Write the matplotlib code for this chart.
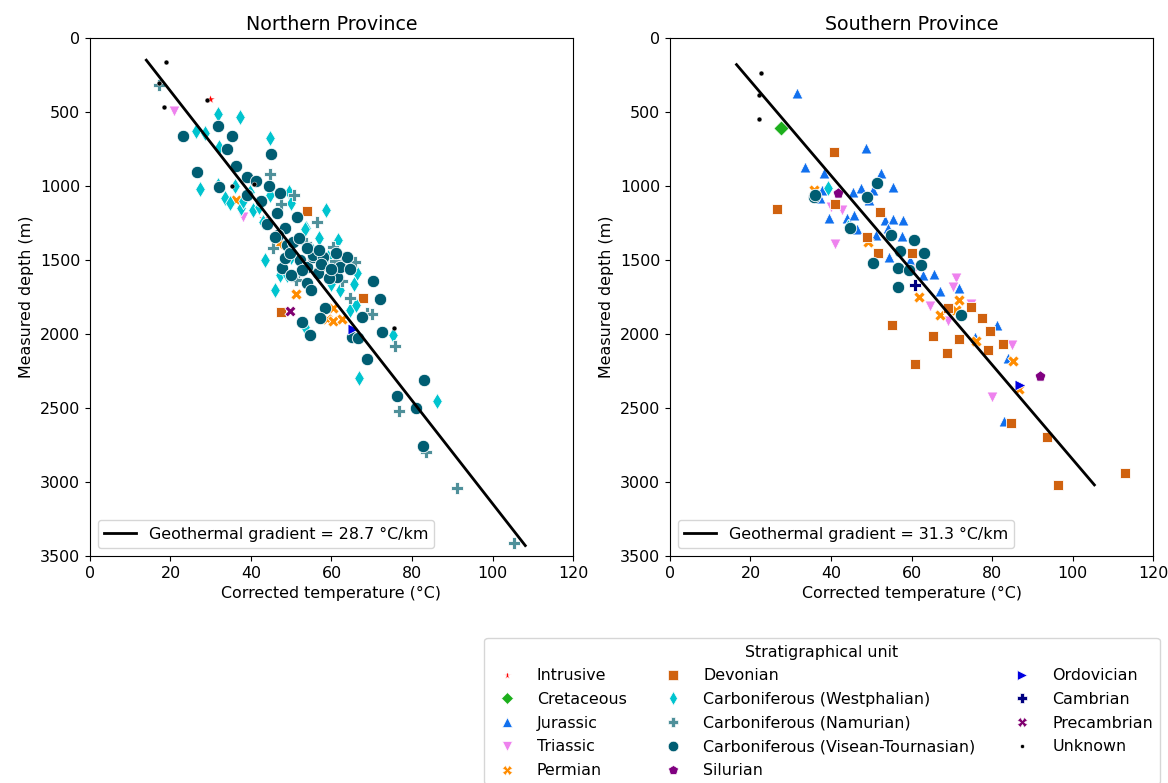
import matplotlib
matplotlib.use('Agg')
import matplotlib.pyplot as plt
from matplotlib.lines import Line2D

# Stratigraphical units: name, marker, colour, size
UNITS = ['Intrusive', 'Cretaceous', 'Jurassic', 'Triassic', 'Permian', 'Devonian',
         'Carboniferous (Westphalian)', 'Carboniferous (Namurian)',
         'Carboniferous (Visean-Tournasian)', 'Silurian', 'Ordovician', 'Cambrian',
         'Precambrian', 'Unknown']
MARKERS = ['*', 'D', '^', 'v', 'X', 's', 'd', 'P', 'o', 'p', '>', 'P', 'X', '.']
COLORS = ['red', '#1caf1c', '#1170ee', '#ee82ee', '#ff8c00', '#d0620f', '#00c4cf',
          '#4f909a', '#005d72', '#800080', '#0000e0', '#000080', '#800070', 'black']
SIZES = [45, 60, 62, 62, 68, 62, 68, 78, 80, 68, 62, 64, 64, 50]

# ---- Northern Province (temperature degC, depth m) ----
N_INTRUSIVE = [(29.8, 412), (43.1, 1214), (56.9, 1428)]
N_TRIASSIC = [(20.9, 491), (37.9, 1207)]
N_PERMIAN = [(36.4, 1095), (47.0, 1394), (51.1, 1730), (60.4, 1822), (58.8, 1899),
             (60.4, 1910), (62.5, 1899)]
N_DEVONIAN = [(53.8, 1167), (67.9, 1759), (47.5, 1851)]
N_WESTPHALIAN = [(31.9, 514), (37.3, 532), (26.3, 628), (28.6, 644), (32.1, 734),
                 (44.7, 678), (27.3, 1022), (33.5, 1083), (34.8, 1117), (31.9, 993),
                 (39.8, 1038), (44.7, 1061), (49.5, 1038), (49.9, 1117), (58.6, 1162),
                 (53.7, 1286), (61.7, 1365), (43.5, 1500), (43.0, 1241), (40.6, 1162),
                 (37.5, 1151), (59.2, 1478), (47.2, 1601), (53.4, 1292), (48.9, 1601),
                 (59.5, 1563), (60.0, 1664), (66.4, 1590), (65.6, 1662), (64.6, 1838),
                 (66.1, 1804), (53.4, 1950), (75.4, 2007), (66.9, 2300), (86.1, 2451),
                 (36.0, 1000), (38.0, 1100), (42.0, 1140), (55.0, 1420), (57.0, 1350),
                 (62.0, 1700), (46.0, 1700), (50.0, 1480)]
N_NAMURIAN = [(17.2, 318), (44.7, 919), (50.8, 1063), (56.3, 1241), (53.7, 1387),
              (60.3, 1414), (60.9, 1507), (51.8, 1601), (65.8, 1516), (51.3, 1635),
              (64.6, 1755), (68.7, 1860), (70.0, 1867), (75.8, 2081), (76.8, 2518),
              (83.5, 2797), (91.2, 3041), (105.3, 3412), (47.5, 1120), (57.0, 1560),
              (62.5, 1640), (45.5, 1420)]
N_VISEAN = [(23.0, 660), (31.7, 595), (35.4, 660), (34.0, 752), (45.1, 784), (36.4, 865),
            (26.5, 903), (38.9, 937), (41.2, 964), (44.5, 998), (32.1, 1004), (47.2, 1050),
            (46.4, 1184), (51.4, 1212), (48.4, 1286), (46.8, 1331), (48.9, 1399),
            (47.6, 1556), (52.2, 1500), (53.8, 1545), (55.5, 1478), (63.6, 1478),
            (61.3, 1612), (56.7, 1590), (46.0, 1342), (48.4, 1489), (49.7, 1455),
            (52.6, 1568), (53.8, 1657), (55.5, 1466), (58.0, 1478), (62.1, 1545),
            (63.8, 1478), (70.4, 1642), (72.0, 1764), (67.7, 1883), (58.4, 1827),
            (57.1, 1894), (52.6, 1917), (54.7, 2007), (65.0, 2018), (66.7, 2029),
            (72.5, 1984), (68.7, 2171), (83.0, 2311), (76.2, 2419), (80.9, 2502),
            (82.7, 2757), (50.5, 1380), (54.0, 1420), (57.5, 1530), (59.5, 1620),
            (50.0, 1600), (44.0, 1260), (42.5, 1100), (39.0, 1060), (55.0, 1700),
            (60.0, 1560), (57.0, 1430), (52.0, 1350), (64.5, 1560), (61.0, 1450)]
N_ORDOVICIAN = [(65.3, 1968)]
N_PRECAMBRIAN = [(49.7, 1845)]
N_UNKNOWN = [(19.0, 164), (17.1, 304), (18.3, 464), (29.1, 419), (35.2, 1000),
             (40.7, 989), (75.6, 1961)]

# ---- Southern Province ----
S_CRETACEOUS = [(27.6, 606)]
S_JURASSIC = [(31.6, 370), (48.6, 745), (33.5, 874), (38.3, 910), (52.4, 910), (55.3, 1005),
              (47.4, 1011), (45.4, 1038), (50.5, 1027), (37.7, 1027), (37.3, 1083),
              (49.4, 1095), (39.5, 1218), (43.9, 1218), (46.5, 1292), (53.4, 1230),
              (55.3, 1223), (58.0, 1230), (54.2, 1282), (57.6, 1338), (51.2, 1331),
              (54.4, 1478), (59.6, 1500), (45.7, 1196), (62.9, 1601), (65.6, 1595),
              (67.1, 1707), (71.9, 1691), (81.2, 1939), (75.8, 2018), (83.9, 2160),
              (83.0, 2588)]
S_TRIASSIC = [(39.9, 1144), (42.7, 1162), (41.0, 1394), (48.6, 1360), (71.1, 1624),
              (70.2, 1684), (74.7, 1799), (64.6, 1811), (69.0, 1910), (84.9, 2074),
              (80.1, 2423), (60.5, 1568)]
S_PERMIAN = [(35.9, 1030), (49.3, 1376), (61.9, 1752), (71.9, 1770), (71.1, 1838),
             (67.1, 1872), (75.9, 2045), (85.3, 2180), (86.8, 2374)]
S_DEVONIAN = [(40.8, 772), (26.7, 1157), (52.2, 1178), (41.0, 1124), (51.6, 1455),
              (60.2, 1455), (49.0, 1342), (69.0, 1822), (74.7, 1820), (77.4, 1894),
              (79.5, 1980), (82.8, 2068), (79.1, 2108), (71.9, 2034), (68.7, 2130),
              (65.3, 2011), (55.1, 1939), (60.9, 2203), (84.6, 2603), (93.6, 2698),
              (113.0, 2939), (96.4, 3020)]
S_WESTPHALIAN = [(39.2, 1011), (44.3, 1275)]
S_VISEAN = [(51.4, 978), (48.9, 1072), (35.8, 1072), (44.7, 1286), (54.9, 1331),
            (60.5, 1365), (57.1, 1437), (50.5, 1518), (56.7, 1556), (59.5, 1568),
            (56.7, 1680), (63.1, 1450), (62.3, 1534), (72.2, 1872), (36.0, 1061)]
S_SILURIAN = [(41.8, 1045), (91.9, 2284)]
S_ORDOVICIAN = [(87.0, 2345)]
S_CAMBRIAN = [(60.9, 1669)]
S_UNKNOWN = [(22.5, 239), (22.2, 385), (22.2, 549)]

NORTH = {'Intrusive': N_INTRUSIVE, 'Triassic': N_TRIASSIC, 'Permian': N_PERMIAN,
         'Devonian': N_DEVONIAN, 'Carboniferous (Westphalian)': N_WESTPHALIAN,
         'Carboniferous (Namurian)': N_NAMURIAN,
         'Carboniferous (Visean-Tournasian)': N_VISEAN, 'Ordovician': N_ORDOVICIAN,
         'Precambrian': N_PRECAMBRIAN, 'Unknown': N_UNKNOWN}
SOUTH = {'Cretaceous': S_CRETACEOUS, 'Jurassic': S_JURASSIC, 'Triassic': S_TRIASSIC,
         'Permian': S_PERMIAN, 'Devonian': S_DEVONIAN,
         'Carboniferous (Westphalian)': S_WESTPHALIAN,
         'Carboniferous (Visean-Tournasian)': S_VISEAN, 'Silurian': S_SILURIAN,
         'Ordovician': S_ORDOVICIAN, 'Cambrian': S_CAMBRIAN, 'Unknown': S_UNKNOWN}

# geothermal gradient fits: gradient (degC/km), surface intercept (degC), depth span (m)
N_GRADIENT, N_T0, N_ZSPAN = 28.7, 9.7, (150, 3430)
S_GRADIENT, S_T0, S_ZSPAN = 31.3, 10.9, (180, 3020)

plt.rcParams['font.size'] = 11.4
fig = plt.figure(figsize=(11.68, 7.83), dpi=100)
ax1 = fig.add_axes([0.077, 0.29, 0.4136, 0.6615])
ax2 = fig.add_axes([0.5736, 0.29, 0.4136, 0.6615])


def draw(ax, groups, grad, t0, zspan, title):
    for name, mk, col, sz in zip(UNITS, MARKERS, COLORS, SIZES):
        pts = groups.get(name)
        if not pts:
            continue
        t = [p[0] for p in pts]
        z = [p[1] for p in pts]
        lw = 0.3 if mk in ('*', '.') else 0.6
        ax.scatter(t, z, marker=mk, c=col, s=sz, edgecolors='white', linewidths=lw,
                   zorder=2)
    z = list(zspan)
    t = [t0 + grad * d / 1000 for d in z]
    ax.plot(t, z, color='black', lw=2, zorder=3,
            label='Geothermal gradient = %.1f °C/km' % grad)
    ax.set_xlim(0, 120)
    ax.set_ylim(3500, 0)
    ax.set_xticks(range(0, 121, 20))
    ax.set_yticks(range(0, 3501, 500))
    ax.set_xlabel('Corrected temperature (°C)')
    ax.set_ylabel('Measured depth (m)')
    ax.set_title(title, fontsize=13.7)
    ax.legend(loc='lower left')


draw(ax1, NORTH, N_GRADIENT, N_T0, N_ZSPAN, 'Northern Province')
draw(ax2, SOUTH, S_GRADIENT, S_T0, S_ZSPAN, 'Southern Province')

handles = [Line2D([], [], ls='', marker=mk, color=col, markeredgecolor='white',
                  markeredgewidth=0.5, markersize=(sz ** 0.5) * 0.85)
           for mk, col, sz in zip(MARKERS, COLORS, SIZES)]
fig.legend(handles, UNITS, title='Stratigraphical unit', ncol=3,
           loc='upper left', bbox_to_anchor=(0.408, 0.195),
           columnspacing=1.95, handletextpad=0.9, labelspacing=0.55)

fig.savefig('out.png', dpi=100)
